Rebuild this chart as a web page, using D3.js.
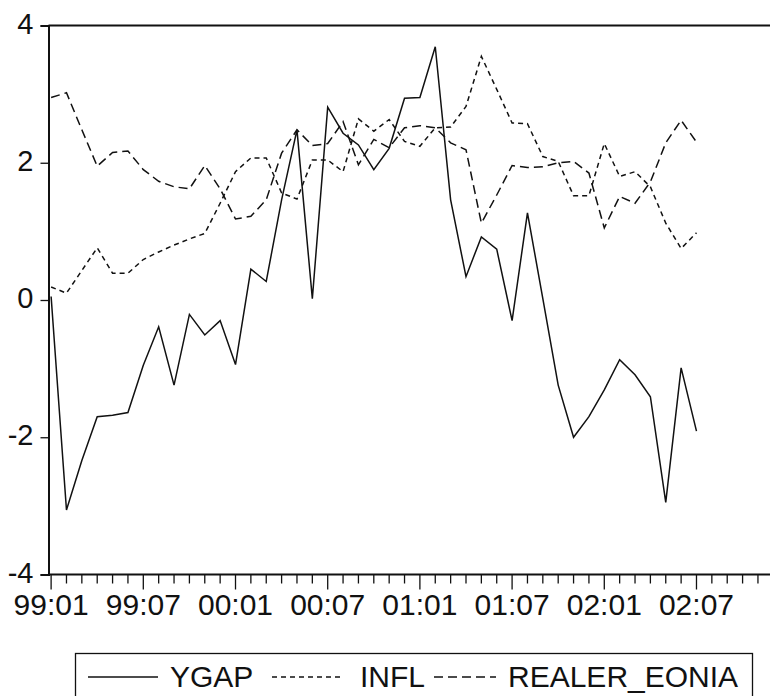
<!DOCTYPE html>
<html>
<head>
<meta charset="utf-8">
<script src="https://cdn.jsdelivr.net/npm/d3@7"></script>
<style>
  html, body { margin: 0; padding: 0; background: #fff; }
  svg { display: block; }
  text { font-family: "Liberation Sans", Arial, Helvetica, sans-serif; fill: #111; }
</style>
</head>
<body>
<svg id="chart" width="770" height="696"></svg>
<script>
// Monthly observations, 1999:01 - 2002:07
const periods = [
  "99:01","99:02","99:03","99:04","99:05","99:06","99:07","99:08","99:09","99:10","99:11","99:12",
  "00:01","00:02","00:03","00:04","00:05","00:06","00:07","00:08","00:09","00:10","00:11","00:12",
  "01:01","01:02","01:03","01:04","01:05","01:06","01:07","01:08","01:09","01:10","01:11","01:12",
  "02:01","02:02","02:03","02:04","02:05","02:06","02:07"
];

// Output gap
const ygap = [0.05,-3.06,-2.34,-1.70,-1.68,-1.64,-0.95,-0.39,-1.24,-0.21,-0.51,-0.30,
  -0.94,0.45,0.27,1.46,2.48,0.02,2.81,2.43,2.26,1.90,2.21,2.94,
  2.95,3.69,1.46,0.34,0.92,0.74,-0.30,1.27,0.02,-1.24,-2.00,-1.70,
  -1.31,-0.87,-1.09,-1.41,-2.95,-0.99,-1.91];

// Inflation
const infl = [0.19,0.10,0.43,0.76,0.39,0.39,0.59,0.70,0.80,0.89,0.97,1.41,
  1.87,2.07,2.07,1.56,1.47,2.04,2.04,1.87,2.64,2.46,2.63,2.31,
  2.24,2.51,2.52,2.82,3.55,3.07,2.58,2.57,2.09,2.02,1.52,1.52,
  2.28,1.80,1.87,1.65,1.12,0.75,0.98];

// Real EONIA rate
const realerEonia = [2.95,3.02,2.48,1.95,2.15,2.17,1.90,1.73,1.65,1.62,1.96,1.62,
  1.18,1.22,1.46,2.14,2.48,2.25,2.28,2.60,1.97,2.34,2.22,2.51,
  2.54,2.51,2.29,2.19,1.12,1.53,1.96,1.93,1.94,2.00,2.02,1.85,
  1.05,1.51,1.41,1.72,2.29,2.62,2.30];

const yTicks = [-4, -2, 0, 2, 4];
const xTickLabels = ["99:01","99:07","00:01","00:07","01:01","01:07","02:01","02:07"];
const seriesNames = ["YGAP", "INFL", "REALER_EONIA"];

// Axis runs on through 2002:12
const axisMonths = 48;

const svg = d3.select("#chart");

const x = d3.scaleLinear().domain([-0.17, axisMonths - 0.5]).range([48.5, 781]);
const y = d3.scaleLinear().domain([-4, 4]).range([574.5, 25.5]);

const series = [
  { name: seriesNames[0], values: ygap, dash: null },
  { name: seriesNames[1], values: infl, dash: "5,4" },
  { name: seriesNames[2], values: realerEonia, dash: "9,5" }
];

// Plot frame (top edge)
svg.append("line").attr("x1", x.range()[0]).attr("x2", x.range()[1])
  .attr("y1", y(4)).attr("y2", y(4)).attr("stroke", "#111").attr("stroke-width", 2);

// Y axis, plain hyphen for negatives
const yAxis = d3.axisLeft(y).tickValues(yTicks).tickSize(8).tickPadding(7)
  .tickFormat(d => String(d));
const gy = svg.append("g").attr("transform", `translate(${x.range()[0]},0)`).call(yAxis);
gy.select(".domain").attr("stroke", "#111").attr("stroke-width", 2);
gy.selectAll(".tick line").attr("stroke", "#111").attr("stroke-width", 1.3);
gy.selectAll(".tick text").attr("font-size", 29).attr("dy", "0.26em")
  .style("font-family", "'Liberation Sans', Arial, sans-serif").attr("fill", "#111");

// X axis: monthly minor ticks, labelled ticks every six months
const monthIdx = d3.range(axisMonths);
const gx = svg.append("g").attr("transform", `translate(0,${y(-4)})`);
gx.append("line").attr("x1", x.range()[0]).attr("x2", x.range()[1])
  .attr("stroke", "#111").attr("stroke-width", 2);
gx.selectAll("line.tick").data(monthIdx).join("line").attr("class", "tick")
  .attr("x1", d => x(d)).attr("x2", d => x(d))
  .attr("y1", 0).attr("y2", d => d % 6 === 0 ? 15 : 9)
  .attr("stroke", "#111").attr("stroke-width", 1.3);
gx.selectAll("text").data(xTickLabels).join("text")
  .attr("x", (d, i) => x(i * 6)).attr("y", 40)
  .attr("text-anchor", "middle").attr("font-size", 30).text(d => d);

// Series lines
const line = d3.line().x((d, i) => x(i)).y(d => y(d));
svg.append("g").selectAll("path").data(series).join("path")
  .attr("d", d => line(d.values))
  .attr("fill", "none").attr("stroke", "#111").attr("stroke-width", 1.5)
  .attr("stroke-dasharray", d => d.dash)
  .attr("stroke-linejoin", "miter");

// Legend
const lg = svg.append("g");
lg.append("rect").attr("x", 75.5).attr("y", 653.5).attr("width", 677).attr("height", 60)
  .attr("fill", "none").attr("stroke", "#111").attr("stroke-width", 1.3);
const legendItems = [
  { s: series[0], x0: 88, x1: 158, tx: 170 },
  { s: series[1], x0: 272, x1: 340, tx: 360 },
  { s: series[2], x0: 434, x1: 496, tx: 508 }
];
legendItems.forEach(it => {
  lg.append("line").attr("x1", it.x0).attr("x2", it.x1).attr("y1", 677).attr("y2", 677)
    .attr("stroke", "#111").attr("stroke-width", 1.3)
    .attr("stroke-dasharray", it.s.dash);
  lg.append("text").attr("x", it.tx).attr("y", 687).attr("font-size", 30).text(it.s.name);
});
</script>
</body>
</html>
